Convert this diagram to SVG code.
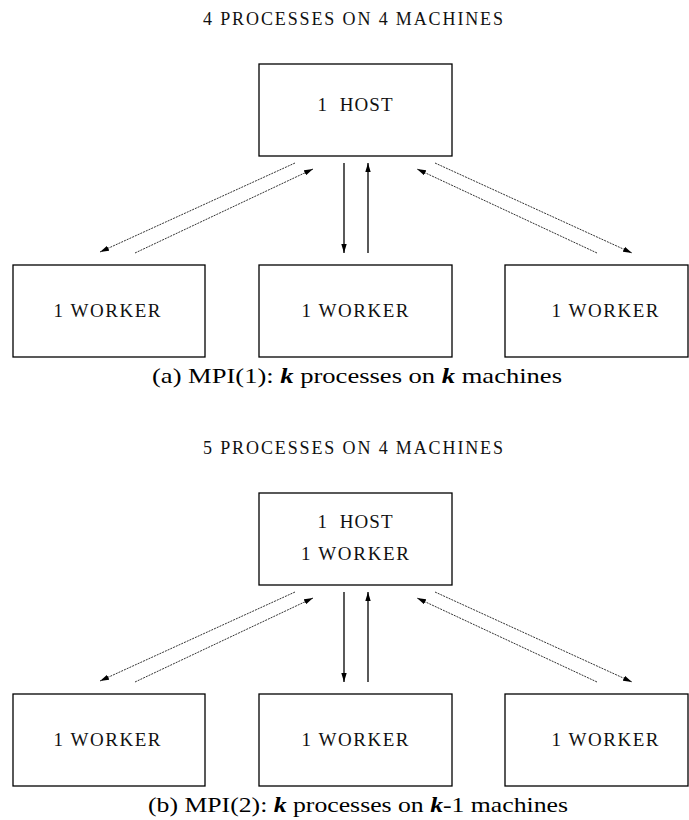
<svg xmlns="http://www.w3.org/2000/svg" width="689" height="820" viewBox="0 0 689 820">
<defs>
<style>
.box{fill:#fff;stroke:#000;stroke-width:1.3}
.lbl{font-family:"Liberation Serif","Times New Roman",serif;font-size:19px;fill:#111;text-anchor:middle}
.ttl{font-family:"Liberation Serif","Times New Roman",serif;font-size:18px;fill:#111;text-anchor:middle}
.cap{font-family:"Liberation Serif","Times New Roman",serif;font-size:22px;fill:#000}
.cn{stroke:#333;stroke-width:1;stroke-dasharray:2 1;fill:none;marker-end:url(#ah)}
.vn{stroke:#000;stroke-width:1.3;fill:none;marker-end:url(#ah)}
</style>
<marker id="ah" viewBox="0 0 10 6" refX="10" refY="3" markerWidth="9" markerHeight="6" markerUnits="userSpaceOnUse" orient="auto">
<path d="M0,0 L10,3 L0,6 z" fill="#000"/>
</marker>
</defs>
<rect width="689" height="820" fill="#fff"/>
<text class="ttl" x="353" y="25" textLength="300" lengthAdjust="spacing">4 PROCESSES ON 4 MACHINES</text>
<g id="host-a"><rect class="box" x="259" y="64" width="193" height="92"/><text class="lbl" x="355" y="111" textLength="75" lengthAdjust="spacing" xml:space="preserve">1  HOST</text></g>
<g id="worker-a1"><rect class="box" x="13" y="265" width="192" height="92"/><text class="lbl" x="107" y="317" textLength="107" lengthAdjust="spacing">1 WORKER</text></g>
<g id="worker-a2"><rect class="box" x="259" y="265" width="193" height="92"/><text class="lbl" x="355" y="317" textLength="107" lengthAdjust="spacing">1 WORKER</text></g>
<g id="worker-a3"><rect class="box" x="505" y="265" width="183" height="92"/><text class="lbl" x="605" y="317" textLength="107" lengthAdjust="spacing">1 WORKER</text></g>
<g id="connectors-a">
<line class="cn" x1="295" y1="163" x2="100" y2="252"/>
<line class="cn" x1="135" y1="253" x2="313" y2="169"/>
<line class="vn" x1="344" y1="163" x2="344" y2="253"/>
<line class="vn" x1="368" y1="253" x2="368" y2="163"/>
<line class="cn" x1="435" y1="163" x2="632" y2="253"/>
<line class="cn" x1="597" y1="253" x2="417" y2="169"/>
</g>
<text class="cap" x="152" y="383" textLength="410" lengthAdjust="spacingAndGlyphs">(a) MPI(1): <tspan font-style="italic" font-weight="bold">k</tspan> processes on <tspan font-style="italic" font-weight="bold">k</tspan> machines</text>
<text class="ttl" x="353" y="454" textLength="300" lengthAdjust="spacing">5 PROCESSES ON 4 MACHINES</text>
<g id="host-b"><rect class="box" x="259" y="493" width="193" height="92"/><text class="lbl" x="355" y="528" textLength="75" lengthAdjust="spacing" xml:space="preserve">1  HOST</text><text class="lbl" x="355" y="560" textLength="108" lengthAdjust="spacing">1 WORKER</text></g>
<g id="worker-b1"><rect class="box" x="13" y="694" width="192" height="92"/><text class="lbl" x="107" y="746" textLength="107" lengthAdjust="spacing">1 WORKER</text></g>
<g id="worker-b2"><rect class="box" x="259" y="694" width="193" height="92"/><text class="lbl" x="355" y="746" textLength="107" lengthAdjust="spacing">1 WORKER</text></g>
<g id="worker-b3"><rect class="box" x="505" y="694" width="183" height="92"/><text class="lbl" x="605" y="746" textLength="107" lengthAdjust="spacing">1 WORKER</text></g>
<g id="connectors-b">
<line class="cn" x1="295" y1="592" x2="100" y2="681"/>
<line class="cn" x1="135" y1="682" x2="313" y2="598"/>
<line class="vn" x1="344" y1="592" x2="344" y2="682"/>
<line class="vn" x1="368" y1="682" x2="368" y2="592"/>
<line class="cn" x1="435" y1="592" x2="632" y2="682"/>
<line class="cn" x1="597" y1="682" x2="417" y2="598"/>
</g>
<text class="cap" x="148" y="812" textLength="420" lengthAdjust="spacingAndGlyphs">(b) MPI(2): <tspan font-style="italic" font-weight="bold">k</tspan> processes on <tspan font-style="italic" font-weight="bold">k</tspan>-1 machines</text>
</svg>
